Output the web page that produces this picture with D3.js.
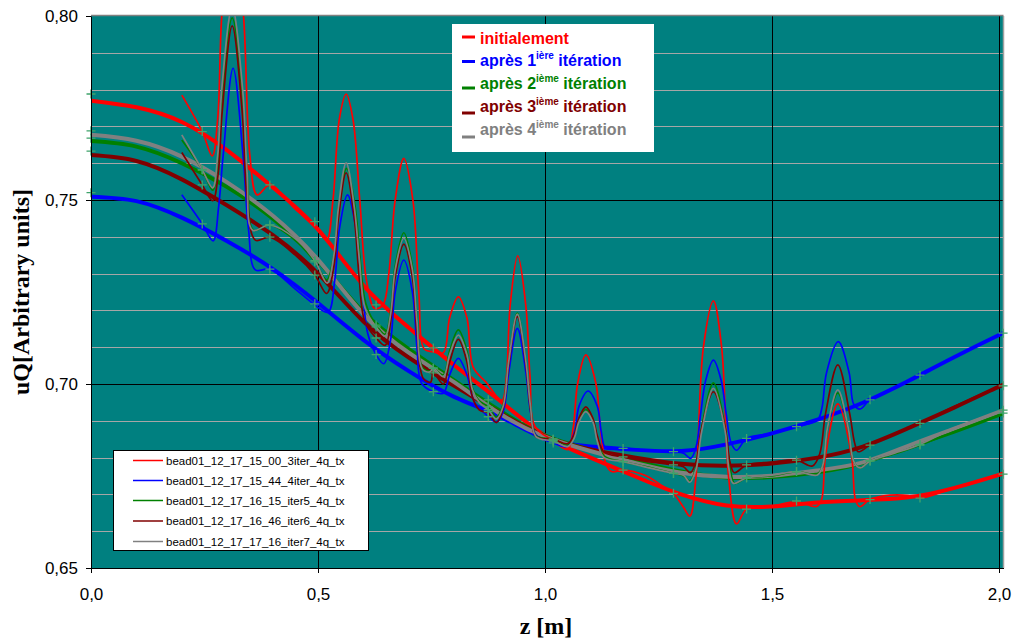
<!DOCTYPE html>
<html>
<head>
<meta charset="utf-8">
<script src="https://cdn.jsdelivr.net/npm/d3@7"></script>
<style>
  body { margin: 0; background: #ffffff; }
  svg { display: block; }
</style>
</head>
<body>
<svg id="chart" width="1016" height="639"></svg>
<script>
// ---- Fitted (smooth) field profiles, one per iteration ----
const fitZ = [0, 0.1, 0.2, 0.3, 0.4, 0.5, 0.6, 0.7, 0.8, 0.9, 1.0, 1.1, 1.2, 1.3, 1.4, 1.5, 1.6, 1.7, 1.8, 1.9, 2.0, 2.01];
const fitInit  = [0.7770, 0.7752, 0.7712, 0.7635, 0.7535, 0.7420, 0.7268, 0.7153, 0.7051, 0.6955, 0.6860, 0.6800, 0.6748, 0.6700, 0.6670, 0.6667, 0.6678, 0.6684, 0.6692, 0.6717, 0.6753, 0.6757];
const fitIter1 = [0.7509, 0.7497, 0.7452, 0.7388, 0.7313, 0.7220, 0.7120, 0.7035, 0.6965, 0.6912, 0.6852, 0.6830, 0.6821, 0.6818, 0.6836, 0.6866, 0.6903, 0.6949, 0.7008, 0.7072, 0.7133, 0.7138];
const fitIter2 = [0.7660, 0.7645, 0.7600, 0.7535, 0.7450, 0.7335, 0.7195, 0.7095, 0.7010, 0.6928, 0.6860, 0.6822, 0.6790, 0.6762, 0.6746, 0.6747, 0.6760, 0.6786, 0.6828, 0.6870, 0.6916, 0.6921];
const fitIter3 = [0.7622, 0.7606, 0.7556, 0.7485, 0.7405, 0.7300, 0.7170, 0.7072, 0.6995, 0.6922, 0.6858, 0.6822, 0.6800, 0.6783, 0.6778, 0.6784, 0.6800, 0.6830, 0.6880, 0.6935, 0.6993, 0.6998];
const fitIter4 = [0.7677, 0.7661, 0.7618, 0.7548, 0.7458, 0.7338, 0.7190, 0.7085, 0.7005, 0.6920, 0.6857, 0.6818, 0.6785, 0.6759, 0.6748, 0.6751, 0.6765, 0.6787, 0.6832, 0.6878, 0.6924, 0.6929];

// ---- Bead-pull measurements [z, uQ] ----
const measInit = [[0.200,0.7785],[0.245,0.7686],[0.267,0.7620],[0.279,0.772],[0.288,0.800],[0.311,0.830],[0.336,0.800],[0.350,0.762],[0.366,0.7514],[0.394,0.7541],[0.450,0.7475],[0.500,0.7418],[0.519,0.7391],[0.533,0.750],[0.547,0.772],[0.562,0.7788],[0.577,0.772],[0.592,0.750],[0.607,0.728],[0.625,0.7205],[0.643,0.7215],[0.656,0.730],[0.670,0.750],[0.689,0.7613],[0.709,0.750],[0.722,0.725],[0.734,0.7095],[0.752,0.7088],[0.776,0.7085],[0.790,0.718],[0.809,0.7237],[0.828,0.718],[0.842,0.7045],[0.870,0.7005],[0.905,0.6955],[0.915,0.702],[0.923,0.721],[0.940,0.7348],[0.958,0.721],[0.967,0.702],[0.978,0.6885],[1.018,0.6846],[1.050,0.6822],[1.062,0.688],[1.072,0.7002],[1.090,0.7079],[1.112,0.7002],[1.122,0.688],[1.135,0.678],[1.147,0.6762],[1.172,0.6766],[1.220,0.6752],[1.260,0.6722],[1.283,0.6703],[1.305,0.6665],[1.319,0.6641],[1.332,0.674],[1.349,0.7101],[1.371,0.7226],[1.389,0.7101],[1.405,0.674],[1.422,0.6620],[1.444,0.6660],[1.500,0.6668],[1.554,0.6680],[1.598,0.6667],[1.609,0.6685],[1.618,0.6806],[1.645,0.6946],[1.675,0.6806],[1.684,0.6685],[1.693,0.6667],[1.716,0.6686],[1.760,0.6698],[1.800,0.6697],[1.826,0.6690],[1.900,0.6717],[2.000,0.6753],[2.010,0.6757]];
const measIter1 = [[0.200,0.7514],[0.245,0.7435],[0.269,0.7389],[0.281,0.748],[0.291,0.762],[0.313,0.7858],[0.335,0.762],[0.347,0.742],[0.362,0.7310],[0.394,0.7312],[0.450,0.7258],[0.493,0.7215],[0.522,0.7195],[0.537,0.7283],[0.547,0.742],[0.565,0.7514],[0.584,0.742],[0.596,0.7283],[0.610,0.7135],[0.628,0.7080],[0.645,0.7055],[0.660,0.712],[0.670,0.725],[0.689,0.7337],[0.708,0.725],[0.718,0.710],[0.728,0.7002],[0.754,0.6979],[0.776,0.6975],[0.790,0.7025],[0.809,0.7070],[0.828,0.7025],[0.845,0.6950],[0.875,0.6912],[0.893,0.6897],[0.908,0.6925],[0.920,0.703],[0.939,0.7151],[0.958,0.703],[0.968,0.6925],[0.980,0.6862],[1.018,0.6840],[1.048,0.6830],[1.065,0.6870],[1.075,0.6940],[1.095,0.6981],[1.115,0.6940],[1.124,0.6870],[1.134,0.6825],[1.172,0.6825],[1.220,0.6820],[1.283,0.6816],[1.305,0.6812],[1.321,0.6798],[1.333,0.6830],[1.343,0.6920],[1.354,0.7010],[1.371,0.7065],[1.388,0.7010],[1.399,0.6920],[1.410,0.6840],[1.422,0.6820],[1.444,0.6852],[1.500,0.6866],[1.554,0.6884],[1.600,0.6902],[1.610,0.6935],[1.620,0.7030],[1.646,0.7115],[1.670,0.7030],[1.680,0.6945],[1.694,0.6932],[1.716,0.6957],[1.826,0.7024],[1.900,0.7072],[2.000,0.7133],[2.010,0.7138]];
const measIter2 = [[0.200,0.7663],[0.245,0.7582],[0.268,0.7527],[0.279,0.760],[0.287,0.776],[0.311,0.7995],[0.335,0.776],[0.345,0.755],[0.358,0.7418],[0.394,0.7432],[0.450,0.7390],[0.493,0.7332],[0.519,0.7283],[0.535,0.735],[0.545,0.748],[0.563,0.7586],[0.582,0.748],[0.592,0.735],[0.605,0.722],[0.628,0.7160],[0.648,0.7135],[0.660,0.720],[0.670,0.732],[0.689,0.7411],[0.708,0.732],[0.718,0.718],[0.730,0.7045],[0.747,0.7035],[0.754,0.7043],[0.776,0.7025],[0.790,0.709],[0.809,0.7147],[0.828,0.709],[0.840,0.699],[0.855,0.6955],[0.875,0.6938],[0.893,0.6910],[0.908,0.6945],[0.920,0.706],[0.939,0.7193],[0.958,0.706],[0.968,0.694],[0.980,0.6860],[1.018,0.6850],[1.050,0.6835],[1.065,0.686],[1.074,0.690],[1.090,0.6931],[1.106,0.690],[1.115,0.685],[1.130,0.6805],[1.172,0.6789],[1.220,0.6776],[1.283,0.6757],[1.305,0.6750],[1.319,0.6736],[1.333,0.6775],[1.345,0.688],[1.371,0.7003],[1.397,0.688],[1.407,0.678],[1.418,0.6730],[1.444,0.6745],[1.500,0.6750],[1.554,0.6762],[1.600,0.6755],[1.612,0.678],[1.622,0.688],[1.645,0.6976],[1.668,0.688],[1.680,0.679],[1.694,0.6772],[1.716,0.6791],[1.770,0.6810],[1.826,0.6834],[1.900,0.6870],[2.000,0.6916],[2.010,0.6921]];
const measIter3 = [[0.200,0.7629],[0.245,0.7541],[0.268,0.7498],[0.280,0.757],[0.289,0.774],[0.311,0.7973],[0.333,0.774],[0.343,0.752],[0.362,0.7391],[0.394,0.7399],[0.450,0.7350],[0.493,0.7296],[0.519,0.7246],[0.535,0.732],[0.545,0.745],[0.562,0.7574],[0.580,0.745],[0.590,0.730],[0.603,0.717],[0.628,0.7125],[0.648,0.7105],[0.660,0.717],[0.670,0.729],[0.689,0.7380],[0.708,0.729],[0.718,0.714],[0.732,0.7015],[0.748,0.7005],[0.754,0.7030],[0.776,0.7000],[0.790,0.706],[0.809,0.7121],[0.828,0.706],[0.840,0.6965],[0.855,0.6930],[0.875,0.6921],[0.893,0.6895],[0.908,0.6935],[0.920,0.705],[0.939,0.7183],[0.958,0.705],[0.968,0.693],[0.980,0.6857],[1.018,0.6850],[1.050,0.6838],[1.065,0.6865],[1.074,0.6905],[1.090,0.6938],[1.106,0.6905],[1.115,0.686],[1.130,0.6815],[1.172,0.6802],[1.220,0.6790],[1.283,0.6780],[1.305,0.6775],[1.320,0.6759],[1.333,0.679],[1.345,0.688],[1.371,0.6979],[1.397,0.688],[1.407,0.679],[1.417,0.6759],[1.444,0.6780],[1.500,0.6788],[1.554,0.6793],[1.589,0.6777],[1.605,0.681],[1.618,0.692],[1.645,0.7052],[1.671,0.692],[1.682,0.684],[1.690,0.6816],[1.716,0.6834],[1.770,0.6865],[1.826,0.6893],[1.900,0.6938],[2.000,0.6993],[2.010,0.6998]];
const measIter4 = [[0.200,0.7677],[0.245,0.7582],[0.268,0.7533],[0.279,0.762],[0.288,0.780],[0.311,0.8025],[0.334,0.780],[0.344,0.757],[0.356,0.7418],[0.394,0.7432],[0.450,0.7395],[0.493,0.7335],[0.520,0.7274],[0.535,0.735],[0.545,0.748],[0.562,0.7601],[0.580,0.748],[0.591,0.734],[0.604,0.7205],[0.628,0.7155],[0.648,0.7130],[0.660,0.719],[0.670,0.731],[0.689,0.7396],[0.708,0.731],[0.718,0.717],[0.730,0.7040],[0.747,0.7033],[0.754,0.7043],[0.776,0.7020],[0.790,0.708],[0.809,0.7133],[0.828,0.708],[0.840,0.6985],[0.855,0.6950],[0.875,0.6930],[0.893,0.6905],[0.908,0.694],[0.920,0.706],[0.939,0.7190],[0.958,0.706],[0.968,0.694],[0.980,0.6857],[1.018,0.6845],[1.050,0.6830],[1.065,0.6855],[1.074,0.6895],[1.090,0.6925],[1.106,0.6895],[1.115,0.6845],[1.130,0.6800],[1.172,0.6789],[1.220,0.6775],[1.283,0.6757],[1.305,0.6752],[1.319,0.6733],[1.333,0.677],[1.345,0.687],[1.371,0.6988],[1.397,0.687],[1.405,0.677],[1.415,0.6730],[1.444,0.6745],[1.500,0.6752],[1.554,0.6762],[1.600,0.6753],[1.612,0.678],[1.622,0.688],[1.645,0.6984],[1.668,0.688],[1.680,0.679],[1.694,0.6772],[1.716,0.6791],[1.770,0.6812],[1.826,0.6836],[1.900,0.6880],[2.000,0.6924],[2.010,0.6929]];

// ---- Spline nodes (cross markers) ----
const markZ = [0, 0.245, 0.394, 0.493, 0.628, 0.754, 0.875, 1.018, 1.172, 1.283, 1.444, 1.554, 1.716, 1.826, 2.009];
const markInit  = [0.7788, 0.7686, 0.7541, 0.7441, 0.7215, 0.7098, 0.6957, 0.6846, 0.6766, 0.6703, 0.6660, 0.6682, 0.6686, 0.6690, 0.6755];
const markIter1 = [0.7520, 0.7435, 0.7312, 0.7218, 0.7080, 0.6979, 0.6911, 0.6840, 0.6825, 0.6816, 0.6852, 0.6884, 0.6957, 0.7024, 0.7138];
const markIter2 = [0.7668, 0.7582, 0.7432, 0.7332, 0.7160, 0.7043, 0.6938, 0.6850, 0.6789, 0.6757, 0.6745, 0.6762, 0.6791, 0.6834, 0.6921];
const markIter3 = [0.7633, 0.7541, 0.7399, 0.7296, 0.7125, 0.7030, 0.6925, 0.6850, 0.6802, 0.6780, 0.6780, 0.6793, 0.6834, 0.6893, 0.6995];
const markIter4 = [0.7688, 0.7582, 0.7432, 0.7335, 0.7155, 0.7043, 0.6930, 0.6845, 0.6789, 0.6757, 0.6745, 0.6762, 0.6791, 0.6836, 0.6929];

// ---- Labels ----
const seriesColors = ["#ff0000", "#0000ff", "#008000", "#800000", "#808080"];
const fileNames = [
  "bead01_12_17_15_00_3iter_4q_tx",
  "bead01_12_17_15_44_4iter_4q_tx",
  "bead01_12_17_16_15_iter5_4q_tx",
  "bead01_12_17_16_46_iter6_4q_tx",
  "bead01_12_17_17_16_iter7_4q_tx"
];
const stageLabels = [
  { main: "initialement", sup: "", tail: "" },
  { main: "après 1", sup: "ière", tail: " itération" },
  { main: "après 2", sup: "ième", tail: " itération" },
  { main: "après 3", sup: "ième", tail: " itération" },
  { main: "après 4", sup: "ième", tail: " itération" }
];
const xTicks = [0, 0.5, 1.0, 1.5, 2.0];
const yTicks = [0.65, 0.70, 0.75, 0.80];
const yMinor = [0.66, 0.67, 0.68, 0.69, 0.71, 0.72, 0.73, 0.74, 0.76, 0.77, 0.78, 0.79];

const fits  = [fitInit, fitIter1, fitIter2, fitIter3, fitIter4];
const meas  = [measInit, measIter1, measIter2, measIter3, measIter4];
const marks = [markInit, markIter1, markIter2, markIter3, markIter4];

// ---- Layout ----
const svg = d3.select("#chart");
const pL = 91, pT = 16, pR = 1003, pB = 568;

const x = d3.scaleLinear().domain([0, 2.01]).range([pL, pL + 2.01 * 454]);
const y = d3.scaleLinear().domain([0.65, 0.80]).range([pB, pT]);
const fr = d3.formatLocale({ decimal: ",", thousands: " ", grouping: [3], currency: ["", ""] });

svg.append("defs").append("clipPath").attr("id", "plotClip")
  .append("rect").attr("x", pL).attr("y", pT).attr("width", pR - pL).attr("height", pB - pT);

// plot background
svg.append("rect").attr("x", pL).attr("y", pT).attr("width", pR - pL).attr("height", pB - pT)
  .attr("fill", "#008080");

// minor horizontal grid
svg.append("g").selectAll("line").data(yMinor).join("line")
  .attr("x1", pL).attr("x2", pR)
  .attr("y1", d => Math.round(y(d)) + 0.5).attr("y2", d => Math.round(y(d)) + 0.5)
  .attr("stroke", "#a6a6a6").attr("stroke-width", 1);

// major grid
svg.append("g").selectAll("line").data([0.70, 0.75]).join("line")
  .attr("x1", pL).attr("x2", pR)
  .attr("y1", d => Math.round(y(d)) + 0.5).attr("y2", d => Math.round(y(d)) + 0.5)
  .attr("stroke", "#000").attr("stroke-width", 1);
svg.append("g").selectAll("line").data([0.5, 1.0, 1.5, 2.0]).join("line")
  .attr("y1", pT).attr("y2", pB)
  .attr("x1", d => Math.round(x(d)) + 0.5).attr("x2", d => Math.round(x(d)) + 0.5)
  .attr("stroke", "#000").attr("stroke-width", 1);

// frame (top / right)
svg.append("line").attr("x1", pL).attr("x2", pR + 0.5).attr("y1", pT - 0.5).attr("y2", pT - 0.5)
  .attr("stroke", "#808080").attr("stroke-width", 1.5);
svg.append("line").attr("x1", pR + 0.5).attr("x2", pR + 0.5).attr("y1", pT).attr("y2", pB)
  .attr("stroke", "#a0a0a0").attr("stroke-width", 1.5);

// curves
const plotG = svg.append("g").attr("clip-path", "url(#plotClip)");
const fitLine = d3.line().x((d, i) => x(fitZ[i])).y(d => y(d)).curve(d3.curveNatural);
const measLine = d3.line().x(d => x(d[0])).y(d => y(d[1])).curve(d3.curveCatmullRom.alpha(0.5));

fits.forEach((f, i) => {
  plotG.append("path").attr("d", fitLine(f)).attr("fill", "none")
    .attr("stroke", seriesColors[i]).attr("stroke-width", 4).attr("stroke-linejoin", "round");
});
meas.forEach((m, i) => {
  plotG.append("path").attr("d", measLine(m)).attr("fill", "none")
    .attr("stroke", seriesColors[i]).attr("stroke-width", 1.7).attr("stroke-linejoin", "round");
});

// node markers
const markG = svg.append("g");
marks.forEach(mv => {
  markG.selectAll(null).data(mv).join("path")
    .attr("transform", (d, i) => `translate(${x(markZ[i])},${y(d)})`)
    .attr("d", "M-4.5,0H4.5M0,-4.5V4.5")
    .attr("stroke", "#3fa36b").attr("stroke-width", 1.3).attr("fill", "none");
});

// axes
const yAxis = svg.append("g").attr("transform", `translate(${pL},0)`)
  .call(d3.axisLeft(y).tickValues(yTicks).tickSize(5).tickSizeOuter(0).tickPadding(8).tickFormat(fr.format(".2f")));
const xAxis = svg.append("g").attr("transform", `translate(0,${pB})`)
  .call(d3.axisBottom(x).tickValues(xTicks).tickSize(5).tickSizeOuter(0).tickPadding(15).tickFormat(fr.format(".1f")));
[yAxis, xAxis].forEach(a => {
  a.selectAll("text").attr("font-family", "'Liberation Sans', Arial, sans-serif").attr("font-size", 17).attr("fill", "#000");
  a.select(".domain").attr("stroke", "#000");
  a.selectAll(".tick line").attr("stroke", "#000");
});

// axis titles
svg.append("text").attr("transform", "translate(29,292) rotate(-90)").attr("text-anchor", "middle")
  .attr("font-family", "'Liberation Serif', 'Times New Roman', serif").attr("font-weight", "bold")
  .attr("font-size", 24).text("uQ[Arbitrary units]");
svg.append("text").attr("x", 546).attr("y", 634).attr("text-anchor", "middle")
  .attr("font-family", "'Liberation Serif', 'Times New Roman', serif").attr("font-weight", "bold")
  .attr("font-size", 24).text("z [m]");

// stage legend (upper)
const lg = svg.append("g");
lg.append("rect").attr("x", 452).attr("y", 24).attr("width", 202).attr("height", 128).attr("fill", "#fff");
const lgBase = [43.5, 66, 89, 112, 135];
const lgLineY = [37, 61.5, 88, 113, 137];
stageLabels.forEach((s, i) => {
  lg.append("line").attr("x1", 462).attr("x2", 475).attr("y1", lgLineY[i]).attr("y2", lgLineY[i])
    .attr("stroke", seriesColors[i]).attr("stroke-width", 3);
  const t = lg.append("text").attr("x", 480).attr("y", lgBase[i])
    .attr("font-family", "'Liberation Sans', Arial, sans-serif").attr("font-weight", "bold")
    .attr("font-size", 16).attr("fill", seriesColors[i]);
  t.append("tspan").text(s.main);
  if (s.sup) {
    t.append("tspan").attr("font-size", 10).attr("dy", -7).text(s.sup);
    t.append("tspan").attr("dy", 7).text(s.tail);
  }
});

// file legend (lower)
const fl = svg.append("g");
fl.append("rect").attr("x", 113.5).attr("y", 450.5).attr("width", 255).attr("height", 100)
  .attr("fill", "#fff").attr("stroke", "#000").attr("stroke-width", 1);
const flY = [460.5, 480.5, 500.5, 521, 541.5];
fileNames.forEach((n, i) => {
  fl.append("line").attr("x1", 133).attr("x2", 163).attr("y1", flY[i]).attr("y2", flY[i])
    .attr("stroke", seriesColors[i]).attr("stroke-width", 1.5);
  fl.append("text").attr("x", 166).attr("y", flY[i]).attr("dy", "0.35em")
    .attr("font-family", "'Liberation Sans', Arial, sans-serif").attr("font-size", 11.5)
    .attr("fill", "#000").text(n);
});
</script>
</body>
</html>
